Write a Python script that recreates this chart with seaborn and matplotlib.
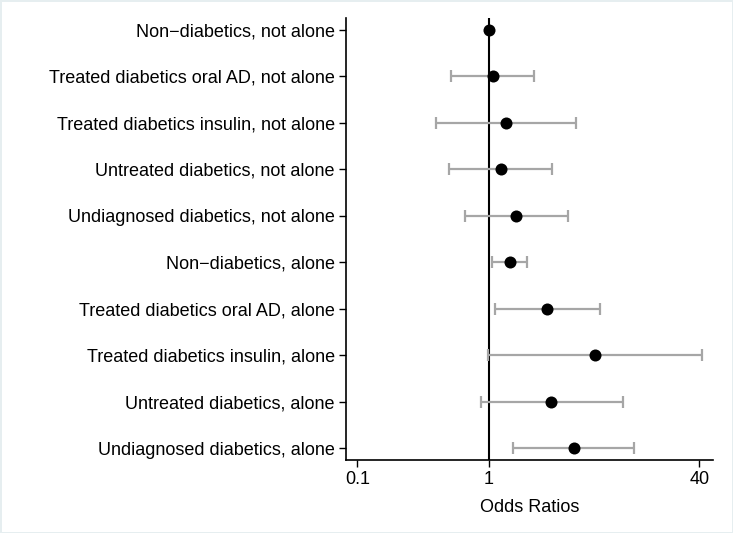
import matplotlib
matplotlib.use("Agg")
import matplotlib.pyplot as plt
import numpy as np
import pandas as pd
import seaborn as sns


#====================================================================================================
groups = [
    "Non\u2212diabetics, not alone",
    "Treated diabetics oral AD, not alone",
    "Treated diabetics insulin, not alone",
    "Untreated diabetics, not alone",
    "Undiagnosed diabetics, not alone",
    "Non\u2212diabetics, alone",
    "Treated diabetics oral AD, alone",
    "Treated diabetics insulin, alone",
    "Untreated diabetics, alone",
    "Undiagnosed diabetics, alone",
]

odds_ratio = [1.00, 1.08, 1.35, 1.23, 1.62, 1.45, 2.78, 6.41, 2.99, 4.46]

ci_low = [np.nan, 0.52, 0.40, 0.50, 0.66, 1.05, 1.11, 0.98, 0.87, 1.53]

ci_high = [np.nan, 2.20, 4.64, 3.05, 4.01, 1.97, 6.99, 41.9, 10.5, 12.8]

x_ticks = [0.1, 1, 40]

x_tick_labels = ["0.1", "1", "40"]


#----------------------------------------------------------------------------------------------------
df = pd.DataFrame({
    "group": groups,
    "pos":   np.arange(len(groups)),
    "or":    odds_ratio,
    "lo":    ci_low,
    "hi":    ci_high,
})

sns.set_style("white")
plt.rcParams["font.family"] = ["Liberation Sans", "DejaVu Sans"]
plt.rcParams["text.color"] = "black"
plt.rcParams["axes.labelcolor"] = "black"
plt.rcParams["xtick.color"] = "black"
plt.rcParams["ytick.color"] = "black"

fig = plt.figure(figsize=(7.33, 5.33), dpi=100)
fig.patch.set_edgecolor("#e6eef0")
fig.patch.set_linewidth(2)
ax = fig.add_axes([0.472, 0.137, 0.501, 0.829])


#----------------------------------------------------------------------------------------------------
ax.axvline(1, color="black", linewidth=1.5, zorder=1)

ax.errorbar(
    x        = df["or"],
    y        = df["pos"],
    xerr     = [df["or"] - df["lo"], df["hi"] - df["or"]],
    fmt      = "none",
    ecolor   = "#a6a6a6",
    elinewidth = 1.6,
    capsize  = 4,
    capthick = 1.6,
    zorder   = 2,
)

sns.scatterplot(
    data      = df,
    x         = "or",
    y         = "pos",
    color     = "black",
    s         = 75,
    edgecolor = "black",
    linewidth = 0,
    zorder    = 3,
    ax        = ax,
)

ax.set_xscale("log")
ax.set_xlim(0.082, 51)
ax.set_ylim(9.25, -0.25)
ax.set_xticks(x_ticks)
ax.set_xticklabels(x_tick_labels)
ax.minorticks_off()
ax.set_yticks(df["pos"])
ax.set_yticklabels(df["group"])

ax.set_xlabel("Odds Ratios", fontsize=13, labelpad=8)
ax.set_ylabel("")

ax.tick_params(axis="both", labelsize=13, length=5, width=1, colors="black",
               direction="out", left=True, bottom=True, pad=3)

sns.despine(ax=ax)
for side in ["left", "bottom"]:
    ax.spines[side].set_color("black")
    ax.spines[side].set_linewidth(1.2)

fig.savefig("out.png", dpi=100)
